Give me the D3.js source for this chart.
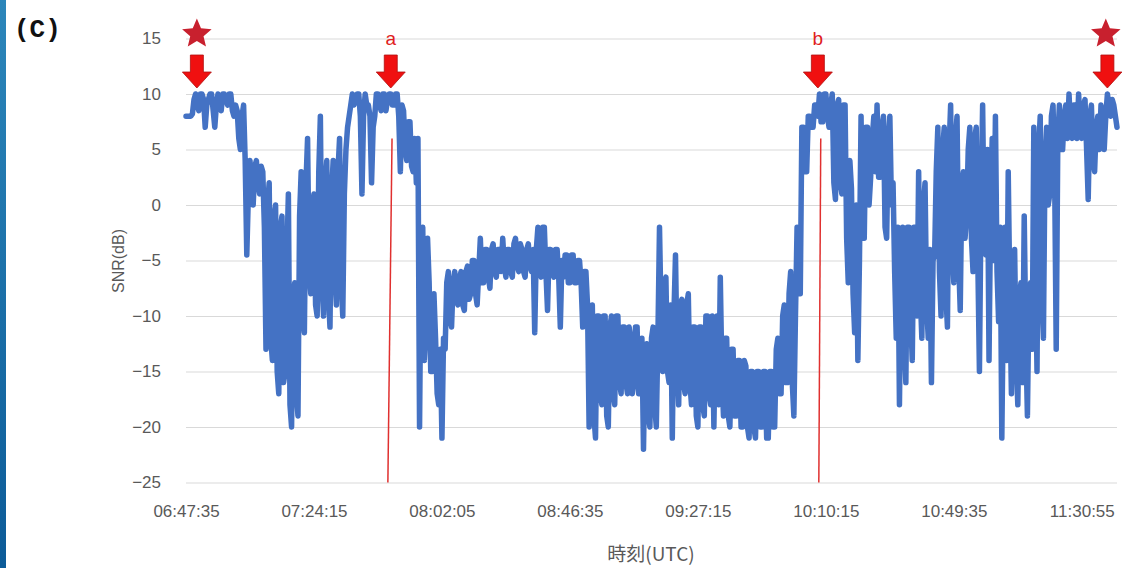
<!DOCTYPE html>
<html>
<head>
<meta charset="utf-8">
<script src="https://cdn.jsdelivr.net/npm/d3@7"></script>
<style>
  body { margin: 0; background: #fff; }
  svg text { font-family: "Liberation Sans", Arial, sans-serif; }
</style>
</head>
<body>
<div id="chart"></div>
<script>
// Category labels shown on the x axis (one every 80 samples)
const timeLabels = ['06:47:35', '07:24:15', '08:02:05', '08:46:35', '09:27:15', '10:10:15', '10:49:35', '11:30:55']
const labelEvery = 80

// SNR (dB) samples
const snr = [
  8, 8, 8, 8, 8.2, 9.5, 10, 9, 8.5, 10, 10, 9.5, 7, 9, 9.5, 10, 10, 8.5, 7, 9,
  10, 9, 8.5, 10, 10, 9.5, 9, 10, 10, 8.5, 8, 9, 8.5, 6, 5, 8, 9, 4, -4.5, 1,
  4, 2, 0, 3.5, 4, 2, 1, 3.5, 3, -2, -13, 0, 2, -12, -14, -1, 0, -15, -17, -2,
  -1, -16, -15, -5, 1, -18, -20, -8, -7, -17, -19, -1, 3, -10, -11.5, 2, 6, -6, -8, 0,
  1, -9, -10, 3, 8, -7, -10, 2, 4, -8, -11, 1, 4, -6, -9, 3, 6, -7, -10, 1,
  5, 7, 8, 9, 10, 9, 9.5, 10, 10, 8, 1, 8, 10, 9, 9, 8, 2, 7, 8, 10,
  10, 9, 8.5, 10, 10, 8.5, 9.5, 10, 10, 9, 9, 10, 10, 8, 3, 9, 8.5, 5, 4, 7.5,
  7.5, 3.5, 3, 6, 2, 6, -20, -3, -2, -14, -11, -3, -7, -15, -15, -8, -12, -17, -18, -13,
  -21, -12, -13, -7, -6, -10, -11, -7, -6, -8.5, -9, -6.5, -6, -9, -9.5, -6, -5.5, -8.5, -8, -5,
  -5, -8, -9, -6, -3, -7, -7, -4, -4, -6.5, -7.5, -4, -3.5, -6, -6.5, -4, -4, -6, -3, -5.5,
  -6.5, -4, -4, -6, -6.5, -3.5, -3, -5.5, -6, -3.5, -4, -6, -6.5, -4, -3.5, -5.5, -6, -4, -11.5, -4,
  -2, -5.5, -6.5, -2, -2, -6, -9.5, -4, -4, -6, -6.5, -4, -4, -6.5, -11, -5, -6.5, -4.5, -4.5, -7,
  -7, -4.5, -4.5, -7, -7, -5, -5, -7, -11, -6, -6, -9, -20, -10, -9, -19, -21, -10, -10, -17,
  -18, -10, -10, -19, -20, -11, -10, -17, -18, -10, -10, -16, -17, -11, -11, -16, -17, -11, -12, -17,
  -16, -11, -11, -17, -17, -12, -22, -13, -12.5, -19, -20, -12, -11, -18, -20, -12, -2, -10, -15, -7,
  -6.5, -15, -16, -9, -21, -10, -4.5, -14, -18, -9, -8.5, -16, -17, -9, -8, -16, -18, -11, -11, -19,
  -20, -11, -11, -18, -19, -10, -10, -17, -18, -10, -20, -11, -10, -18, -6.5, -15, -19, -12, -12, -19,
  -20, -13, -13, -19, -19, -14, -14, -20, -20, -14, -14.5, -20, -21, -15, -15, -20, -21, -15, -15, -20,
  -20, -15, -15, -21, -21, -15, -15, -20, -20, -13, -12, -17, -17, -10, -9, -16, -16, -8, -6, -16,
  -19, -10, -2, -8, -8, 7, 7, 3, 3, 8, 8, 7, 7, 9, 9, 8, 10, 7.5, 7.5, 10,
  10, 8, 7, 9, 10, 2, 0.5, 9, 9.5, 2, 1, 9, 9, -3, -7, 4, 1.5, -8, -11.5, 0,
  -14, -5, 8, -3, -3, 7, 7, 0, 2.5, 6, 8, 3, 9, 2.5, 2.5, 7, 8, -2, -3, 6,
  8, 0, 2, -6, -12, -2, -18, -6, -2, -12, -16, -2, -2, -10, -14, -2, -2, -10, 3, -8,
  -12, 0, 2, -9, -12, -4, -16, -5, -4.5, 3, 7, -6, -10, 5, 7, -8, -11, 5, 9, -4,
  -7, 6, 8, -5, -9.5, 2, 3, -3, -1, 5, 7, -3, -6, 6, 7, -5, -15, 0, 9, -3,
  -4.5, 5, -14, 0, 6, -5, 8, -6, -10.5, -2, -21, -8, -2, -14, 3, -8, -17, -5, -4, -14,
  -18, -8, -7, -16, -1, -12, -19, -8, -7, -13, 7, -5, -15, 5, 8, -8, -12, 4, 7, 0,
  1, 8, 9, 3, -13, 6, 9, 5, 5, 8, 9, 6, 10, 7, 6, 9, 9, 6, 10, 7,
  6, 9, 9.5, 5, 0.5, 8, 9, 4, 3, 7, 8, 5, 9, 7, 5, 8, 10, 9, 8, 9.5,
  9, 8, 7
]

const yTicks = [15, 10, 5, 0, -5, -10, -15, -20, -25]

// Annotations, positioned in sample-index units
const stars = [6.8, 575]
const arrows = [{i: 6.8, label: ''}, {i: 128, label: 'a'}, {i: 395, label: 'b'}, {i: 576, label: ''}]
const redLines = [{top: 128.8, bottom: 126.2, from: 6}, {top: 396.8, bottom: 395.6, from: 6}]

const width = 1123
const height = 568
const plot = {left: 186, right: 1117, top: 38.5, bottom: 482.5}

const svg = d3.select('#chart')
  .append('svg')
  .attr('width', width)
  .attr('height', height)

// Blue strip on the left edge
const grad = svg.append('defs').append('linearGradient')
  .attr('id', 'strip')
  .attr('x1', 0).attr('y1', 0).attr('x2', 0).attr('y2', 1)
grad.append('stop').attr('offset', '0%').attr('stop-color', '#2c86ba')
grad.append('stop').attr('offset', '100%').attr('stop-color', '#0c5b98')
svg.append('rect')
  .attr('x', 0).attr('y', 0)
  .attr('width', 6).attr('height', height)
  .attr('fill', 'url(#strip)')

// Panel label
svg.append('text')
  .attr('x', 14)
  .attr('y', 37)
  .style('font-family', '"Liberation Mono", "DejaVu Sans Mono", monospace')
  .style('font-size', '26px')
  .style('font-weight', 'bold')
  .style('fill', '#111')
  .text('(C)')

// Scales
const xScale = d3.scaleLinear().domain([0, snr.length - 1]).range([plot.left, plot.right])
const yScale = d3.scaleLinear().domain([-25, 15]).range([plot.bottom, plot.top])

// Gridlines
const gGrid = svg.append('g')
  .attr('transform', `translate(${plot.left},0)`)
  .call(d3.axisLeft(yScale)
    .tickValues(yTicks)
    .tickSize(-(plot.right - plot.left))
    .tickFormat(''))
gGrid.select('.domain').remove()
gGrid.selectAll('line').attr('stroke', '#d9d9d9').attr('stroke-width', 1)

// Y axis labels
const lAxis = svg.append('g')
  .attr('transform', `translate(${plot.left},0)`)
  .call(d3.axisLeft(yScale)
    .tickValues(yTicks)
    .tickSize(0)
    .tickPadding(25))
lAxis.select('.domain').remove()
lAxis.selectAll('text')
  .style('font-size', '17px')
  .style('fill', '#595959')

// X axis labels
const bAxis = svg.append('g')
  .attr('transform', `translate(0,${plot.bottom})`)
  .call(d3.axisBottom(xScale)
    .tickValues(timeLabels.map((d, i) => i * labelEvery))
    .tickSize(0)
    .tickPadding(22)
    .tickFormat(d => timeLabels[d / labelEvery]))
bAxis.select('.domain').remove()
bAxis.selectAll('text')
  .style('font-size', '17px')
  .style('fill', '#595959')

// Axis titles
svg.append('text')
  .attr('transform', `translate(124,261) rotate(270)`)
  .style('text-anchor', 'middle')
  .style('font-size', '16px')
  .style('fill', '#595959')
  .text('SNR(dB)')

svg.append('text')
  .attr('x', 651)
  .attr('y', 561)
  .style('text-anchor', 'middle')
  .style('font-family', '"Noto Sans CJK JP", sans-serif')
  .style('font-size', '19px')
  .style('fill', '#595959')
  .text('時刻(UTC)')

// Red vertical reference lines
svg.append('g').selectAll('line')
  .data(redLines)
  .join('line')
  .attr('x1', d => xScale(d.top))
  .attr('y1', d => yScale(d.from))
  .attr('x2', d => xScale(d.bottom))
  .attr('y2', yScale(-25))
  .attr('stroke', '#e0302f')
  .attr('stroke-width', 1.5)

// SNR line
const linePath = d3.line()
  .x((d, i) => xScale(i))
  .y(d => yScale(d))

svg.append('path')
  .datum(snr)
  .attr('d', linePath)
  .attr('fill', 'none')
  .attr('stroke', '#4472c4')
  .attr('stroke-width', 5.5)
  .attr('stroke-linejoin', 'round')
  .attr('stroke-linecap', 'round')

// Stars
function starPath(cx, cy, R, r) {
  const pts = []
  for (let k = 0; k < 10; k++) {
    const rad = k % 2 === 0 ? R : r
    const a = -Math.PI / 2 + k * Math.PI / 5
    pts.push([cx + rad * Math.cos(a), cy + rad * Math.sin(a)])
  }
  return 'M' + pts.map(p => p.join(',')).join('L') + 'Z'
}
svg.append('g').selectAll('path')
  .data(stars)
  .join('path')
  .attr('d', d => starPath(xScale(d), 34, 15.5, 7))
  .attr('fill', '#c8202e')

// Arrows pointing down
function arrowPath(cx, top, tip) {
  const shaftW = 6.5, headW = 14.5, headTop = top + 17
  return `M${cx - shaftW},${top}L${cx + shaftW},${top}L${cx + shaftW},${headTop}` +
    `L${cx + headW},${headTop}L${cx},${tip}L${cx - headW},${headTop}L${cx - shaftW},${headTop}Z`
}
const gArrows = svg.append('g')
gArrows.selectAll('path')
  .data(arrows)
  .join('path')
  .attr('d', d => arrowPath(xScale(d.i), 55, 88))
  .attr('fill', '#f01010')
  .attr('stroke', '#b01010')
  .attr('stroke-width', 0.8)
gArrows.selectAll('text')
  .data(arrows.filter(d => d.label))
  .join('text')
  .attr('x', d => xScale(d.i))
  .attr('y', 45)
  .style('text-anchor', 'middle')
  .style('font-size', '19px')
  .style('fill', '#e02020')
  .text(d => d.label)
</script>
</body>
</html>
